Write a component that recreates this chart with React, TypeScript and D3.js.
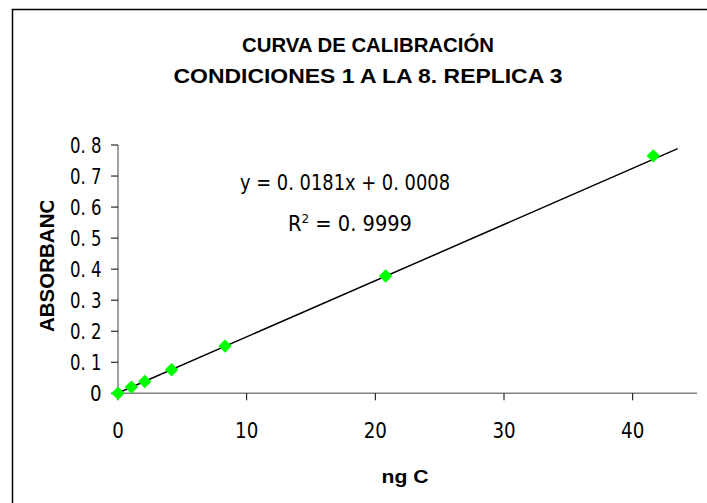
import React from "react";
import * as d3 from "d3";

const xValues = [0, 1.04, 2.08, 4.16, 8.32, 20.8, 41.6];
const yValues = [0, 0.02, 0.038, 0.076, 0.152, 0.378, 0.765];
const xTicks = [0, 10, 20, 30, 40];
const yTicks = [0, 0.1, 0.2, 0.3, 0.4, 0.5, 0.6, 0.7, 0.8];
const slope = 0.0181;
const intercept = 0.0008;
const trendRange = [0, 43.5];
const titleLines = ["CURVA DE CALIBRACIÓN", "CONDICIONES 1 A LA 8. REPLICA 3"];
const eqText = "y = 0.0181x + 0.0008";
const r2Value = "0.9999";
const xTitle = "ng C";
const yTitle = "ABSORBANCIA";

const W = 707;
const H = 503;

export default function App() {
  const x = d3.scaleLinear().domain([0, 45]).range([118, 697]);
  const y = d3.scaleLinear().domain([0, 0.8]).range([393.3, 145]);
  const line = d3
    .line<number>()
    .x((d) => x(d))
    .y((d) => y(slope * d + intercept));
  const diamond = d3.symbol().type(d3.symbolDiamond2).size(115)();
  const tickFont = "'DejaVu Sans', 'Liberation Sans', sans-serif";
  const narrowBold = "'Liberation Sans Narrow', 'Liberation Sans', sans-serif";
  const fmt = (v: number) => (v === 0 ? "0" : d3.format(".1f")(v).replace(".", ". "));
  const digitW = 11.6;

  return (
    <svg
      width={W}
      height={H}
      style={{ position: "fixed", left: 0, top: 0, background: "#fff" }}
    >
      <defs>
        <clipPath id="ytitleclip">
          <rect x={0} y={201} width={100} height={200} />
        </clipPath>
      </defs>
      <rect x={12.5} y={9.5} width={720} height={520} fill="#fff" stroke="#000" strokeWidth={1.5} />

      {titleLines.map((t, i) => (
        <text
          key={i}
          x={368}
          y={[51.5, 83][i]}
          textAnchor="middle"
          fontFamily={narrowBold}
          fontWeight="bold"
          fontSize={21}
          textLength={[252, 389][i]}
          lengthAdjust="spacingAndGlyphs"
        >
          {t}
        </text>
      ))}

      {/* axes */}
      <line x1={x(0)} x2={x(45)} y1={y(0)} y2={y(0)} stroke="#808080" strokeWidth={1.5} />
      <line x1={x(0)} x2={x(0)} y1={y(0)} y2={y(0.8)} stroke="#808080" strokeWidth={1.5} />
      {xTicks.map((t) => (
        <g key={"xt" + t}>
          <line x1={x(t)} x2={x(t)} y1={y(0)} y2={y(0) + 7} stroke="#000" strokeWidth={1} />
          <text
            x={x(t)}
            y={438}
            textAnchor="middle"
            fontFamily={tickFont}
            fontSize={21}
            textLength={String(t).length * digitW}
            lengthAdjust="spacingAndGlyphs"
          >
            {t}
          </text>
        </g>
      ))}
      {yTicks.map((t) => (
        <g key={"yt" + t}>
          <line x1={x(0) - 7} x2={x(0)} y1={y(t)} y2={y(t)} stroke="#000" strokeWidth={1} />
          <text
            x={101.5}
            y={y(t) + 7.5}
            textAnchor="end"
            fontFamily={tickFont}
            fontSize={21}
            textLength={t === 0 ? digitW : 31.5}
            lengthAdjust="spacingAndGlyphs"
            style={{ whiteSpace: "pre" }}
          >
            {fmt(t)}
          </text>
        </g>
      ))}

      {/* trendline */}
      <path d={line(trendRange) || ""} fill="none" stroke="#000" strokeWidth={1.5} />

      {/* points */}
      {xValues.map((xv, i) => (
        <path
          key={"p" + i}
          d={diamond || ""}
          transform={`translate(${x(xv)},${y(yValues[i])})`}
          fill="#00ff00"
        />
      ))}

      {/* equation */}
      <text x={240} y={190} fontFamily={tickFont} fontSize={21} textLength={210} lengthAdjust="spacingAndGlyphs" style={{ whiteSpace: "pre" }}>
        {eqText.replace(/\./g, ". ")}
      </text>
      <text x={288} y={231} fontFamily={tickFont} fontSize={21} textLength={124} lengthAdjust="spacingAndGlyphs" style={{ whiteSpace: "pre" }}>
        R<tspan dy={-8} fontSize={13}>2</tspan>
        <tspan dy={8}>{" = " + r2Value.replace(".", ". ")}</tspan>
      </text>

      {/* axis titles */}
      <text
        x={405}
        y={483}
        textAnchor="middle"
        fontFamily={narrowBold}
        fontWeight="bold"
        fontSize={19}
        textLength={47}
        lengthAdjust="spacingAndGlyphs"
      >
        {xTitle}
      </text>
      <g clipPath="url(#ytitleclip)">
        <text
          transform="translate(54.3,332) rotate(-90)"
          fontFamily="'Liberation Sans', Arial, sans-serif"
          fontWeight="bold"
          fontSize={20.5}
        >
          {yTitle}
        </text>
      </g>
    </svg>
  );
}
